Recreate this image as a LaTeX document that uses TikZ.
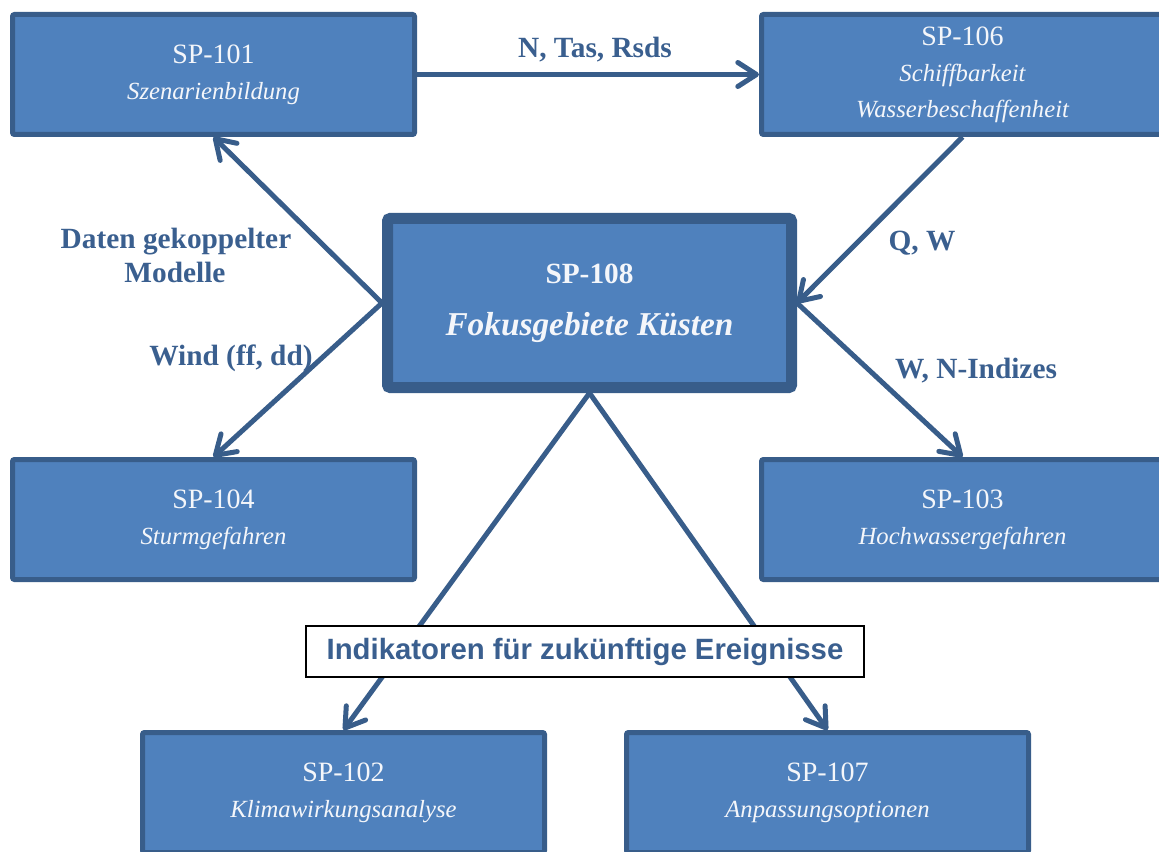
\documentclass[tikz,border=0pt]{standalone}
\usepackage{fontspec}
\setmainfont{Liberation Serif}
\newfontfamily\labsans{Liberation Sans}
\usetikzlibrary{arrows.meta}
\definecolor{boxfill}{HTML}{4F81BD}
\definecolor{boxline}{HTML}{385D8A}
\definecolor{labc}{HTML}{3A5F8F}
\definecolor{boxtext}{HTML}{F4F6FA}
\newcommand{\spit}[1]{{\fontsize{18.5}{27}\selectfont\itshape #1}}
\begin{document}
\begin{tikzpicture}[x=0.75pt,y=-0.75pt,
  sp/.style={draw=boxline, fill=boxfill, line width=3.75pt, rounded corners=1.5pt,
    minimum width=301.5pt, minimum height=90pt, inner sep=0pt, align=center,
    text=boxtext, font=\fontsize{21}{27}\selectfont},
  spbig/.style={draw=boxline, fill=boxfill, line width=8.25pt, rounded corners=2pt,
    minimum width=303pt, minimum height=126.75pt, inner sep=0pt, align=center,
    text=boxtext, font=\fontsize{22}{39}\selectfont},
  conn/.style={draw=boxline, line width=3.75pt, -{Straight Barb[length=14pt,width=18pt,round]}},
  lab/.style={text=labc, font=\fontsize{22}{26}\selectfont\bfseries, anchor=base, inner sep=0pt},
  indbox/.style={draw=black, line width=1.5pt, fill=white, minimum width=418.5pt,
    minimum height=38.25pt, inner sep=0pt, text=labc,
    font=\labsans\fontsize{22}{25}\selectfont\bfseries}
]
\useasboundingbox (0,0) rectangle (1159,852);

\node[sp] (s101) at (213.5,74.5) {SP-101\\\spit{Szenarienbildung}};
\node[sp] (s106) at (962.5,74.5) {SP-106\\\spit{Schiffbarkeit}\\\spit{Wasserbeschaffenheit}};
\node[sp] (s104) at (213.5,519.5) {SP-104\\\spit{Sturmgefahren}};
\node[sp] (s103) at (962.5,519.5) {SP-103\\\spit{Hochwassergefahren}};
\node[sp] (s102) at (343.5,792.5) {SP-102\\\spit{Klimawirkungsanalyse}};
\node[sp] (s107) at (827.5,792.5) {SP-107\\\spit{Anpassungsoptionen}};
\node[spbig] (s108) at (589.5,303) {{\bfseries SP-108}\\{\fontsize{25}{39}\selectfont\bfseries\itshape Fokusgebiete Küsten}};

\draw[conn] (s101) -- (s106);
\draw[conn] (s108.west) -- (s101.south);
\draw[conn] (s108.west) -- (s104.north);
\draw[conn] (s106.south) -- (s108.east);
\draw[conn] (s108.east) -- (s103.north);
\draw[conn] (s108.south) -- (s102.north);
\draw[conn] (s108.south) -- (s107.north);

\node[lab] (l1) at (595,58) {N, Tas, Rsds};
\node[lab] (l2a) at (176,248) {Daten gekoppelter};
\node[lab] (l2b) at (175,282) {Modelle};
\node[lab] (l3) at (231,365) {Wind (ff, dd)};
\node[lab] (l4) at (922,250) {Q, W};
\node[lab] (l5) at (976,378) {W, N-Indizes};

\node[indbox] (ind) at (585,651.5) {Indikatoren für zukünftige Ereignisse};
\end{tikzpicture}
\end{document}
